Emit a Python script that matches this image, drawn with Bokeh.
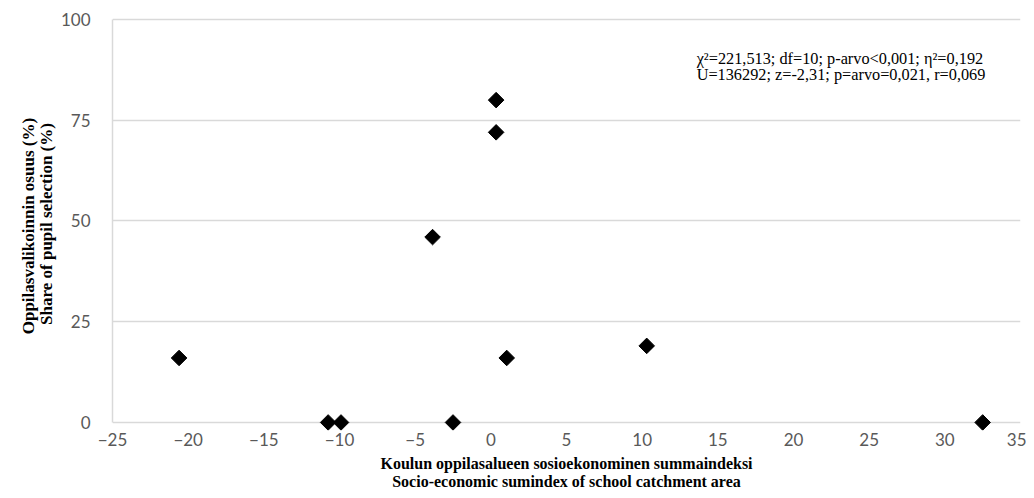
import numpy as np
from bokeh.plotting import figure
from bokeh.models import ColumnDataSource, Range1d, FixedTicker, Label
from bokeh.embed import file_html
from bokeh.resources import INLINE

# Data
sumindex = [-20.6, -10.75, -9.9, -3.85, -2.5, 0.35, 0.35, 1.05, 10.3, 32.5]
share = [16, 0, 0, 46, 0, 72, 80, 16, 19, 0]

x_ticks = [-25, -20, -15, -10, -5, 0, 5, 10, 15, 20, 25, 30, 35]
y_ticks = [0, 25, 50, 75, 100]

x_title = "Koulun oppilasalueen sosioekonominen summaindeksi\nSocio-economic sumindex of school catchment area"
y_title = "Oppilasvalikoinnin osuus  (%)\nShare of pupil selection (%)"
stats_line1 = "χ²=221,513; df=10; p-arvo<0,001; η²=0,192"
stats_line2 = "U=136292; z=-2,31; p=arvo=0,021, r=0,069"

src = ColumnDataSource(dict(x=sumindex, y=share))

p = figure(width=1026, height=498, output_backend="svg", toolbar_location=None,
           x_range=Range1d(-25, 35), y_range=Range1d(-2, 100.5),
           min_border_left=112, min_border_right=6, min_border_top=17, min_border_bottom=68)
p.outline_line_color = None
p.background_fill_color = "white"

p.scatter("x", "y", source=src, marker="square", angle=np.pi / 4, size=11,
          fill_color="black", line_color="black")

tick_font = "Lato"
gray = "#595959"

def minus(v):
    return str(v).replace("-", "\u2212")

# x axis
xa = p.xaxis[0]
xa.ticker = FixedTicker(ticks=x_ticks)
xa.major_label_overrides = {t: minus(t) for t in x_ticks}
xa.axis_line_color = None
xa.major_tick_line_color = None
xa.minor_tick_line_color = None
xa.major_tick_out = 0
xa.major_tick_in = 0
xa.major_label_standoff = 2
xa.major_label_text_font = tick_font
xa.major_label_text_font_size = "17px"
xa.major_label_text_color = gray
xa.axis_label = x_title
xa.axis_label_text_font = "Liberation Serif"
xa.axis_label_text_font_style = "bold"
xa.axis_label_text_font_size = "16px"
xa.axis_label_text_line_height = 1.1
xa.axis_label_text_color = "black"
xa.axis_label_standoff = 6

# y axis
ya = p.yaxis[0]
ya.ticker = FixedTicker(ticks=y_ticks)
ya.bounds = (0, 100)
ya.axis_line_color = "#d9d9d9"
ya.axis_line_width = 1.5
ya.major_tick_line_color = None
ya.minor_tick_line_color = None
ya.major_tick_out = 0
ya.major_tick_in = 0
ya.major_label_standoff = 22
ya.major_label_text_font = tick_font
ya.major_label_text_font_size = "17px"
ya.major_label_text_color = gray
ya.axis_label = y_title
ya.axis_label_text_font = "Liberation Serif"
ya.axis_label_text_font_style = "bold"
ya.axis_label_text_font_size = "17px"
ya.axis_label_text_line_height = 0.95
ya.axis_label_text_color = "black"
ya.axis_label_standoff = 2

p.xgrid.grid_line_color = None
p.ygrid.ticker = FixedTicker(ticks=y_ticks)
p.ygrid.grid_line_color = "#d9d9d9"
p.ygrid.grid_line_width = 1.5

for i, t in enumerate([stats_line1, stats_line2]):
    p.add_layout(Label(x=13.6, y=92.6 - i * 4.0, text=t, text_font="Liberation Serif",
                       text_font_size="16.3px", text_color="black", text_baseline="top"))

open("out.html", "w").write(file_html(p, INLINE))
